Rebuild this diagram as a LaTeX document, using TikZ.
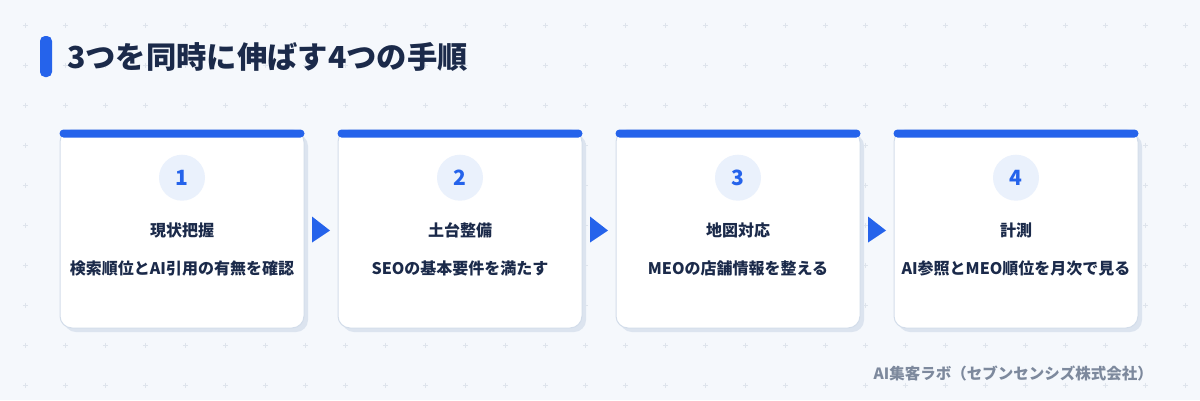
\documentclass[tikz,border=0pt]{standalone}
\usepackage{fontspec}
\setmainfont{Noto Sans CJK JP}
\usetikzlibrary{positioning,calc}

\definecolor{paper}{HTML}{F5F8FC}
\definecolor{gridmark}{HTML}{DEE4EC}
\definecolor{stepblue}{HTML}{2563EB}
\definecolor{inkdark}{HTML}{1B2A4A}
\definecolor{cardline}{HTML}{D3DDEA}
\definecolor{cardshade}{HTML}{DCE4EF}
\definecolor{numfill}{HTML}{EAF1FC}
\definecolor{creditgray}{HTML}{7D899D}

\tikzset{
  card/.style={draw=cardline, line width=1pt, fill=white, rounded corners=12pt,
    minimum width=244pt, minimum height=198pt, inner sep=0pt},
  cardshadow/.style={fill=cardshade, rounded corners=12pt,
    minimum width=244pt, minimum height=198pt, inner sep=0pt},
  numdot/.style={circle, fill=numfill, minimum size=46pt, inner sep=0pt,
    text=stepblue, font=\bfseries\fontsize{21}{24}\selectfont},
  steptitle/.style={text=inkdark, font=\bfseries\fontsize{16}{19}\selectfont, inner sep=0pt},
  steptext/.style={text=inkdark, font=\bfseries\fontsize{16}{19}\selectfont, inner sep=0pt}
}

\begin{document}
\begin{tikzpicture}[x=1pt, y=-1pt]
    \useasboundingbox (0,0) rectangle (1200,400);
    \fill[paper] (0,0) rectangle (1200,400);

    % Draw background marks
    \foreach \gx in {0,...,29} {
      \foreach \gy in {0,...,9} {
        \draw[gridmark, line width=0.8pt] ({25+40*\gx-2.5},{25+40*\gy}) -- ++(5,0)
          ({25+40*\gx},{25+40*\gy-2.5}) -- ++(0,5);
      }
    }

    % Heading
    \fill[stepblue, rounded corners=5pt] (40,36) rectangle (52,77);
    \node[anchor=west, inner sep=0pt, text=inkdark, font=\bfseries\fontsize{30.3}{36}\selectfont]
      (heading) at (67,57) {3つを同時に伸ばす4つの手順};

    % Steps
    \foreach \i/\ttl/\txt in {1/現状把握/検索順位とAI引用の有無を確認,
                              2/土台整備/SEOの基本要件を満たす,
                              3/地図対応/MEOの店舗情報を整える,
                              4/計測/AI参照とMEO順位を月次で見る} {
      % Draw card with shadow and top bar
      \node[cardshadow] (shadow\i) at ({186+278*(\i-1)},233) {};
      \node[card] (card\i) at ({182+278*(\i-1)},229) {};
      \fill[stepblue, rounded corners=4pt] (card\i.north west) rectangle ($(card\i.north east)+(0,8)$);

      % Number, title and text
      \node[numdot, below=25pt of card\i.north] (num\i) {\i};
      \node[steptitle] (title\i) at ($(card\i.north)+(0,101)$) {\ttl};
      \node[steptext] (text\i) at ($(card\i.north)+(0,139)$) {\txt};
    }

    % Arrows between cards
    \foreach \i in {1,2,3} {
      \pgfmathtruncatemacro\j{\i+1}
      \coordinate (gap\i) at ($(card\i.east)!0.5!(card\j.west)$);
      \fill[stepblue] ($(gap\i)+(-9,-12.5)$) -- ($(gap\i)+(9,1.5)$) -- ($(gap\i)+(-9,13.5)$) -- cycle;
    }

    % Credit
    \node[anchor=east, inner sep=0pt, text=creditgray, font=\bfseries\fontsize{15.5}{18}\selectfont]
      (credit) at (1153,373) {AI集客ラボ（セブンセンシズ株式会社）};
\end{tikzpicture}
\end{document}
